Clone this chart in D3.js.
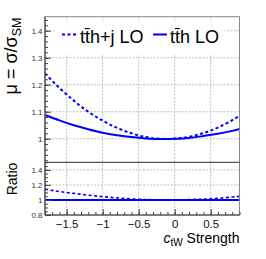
<!DOCTYPE html>
<html><head><meta charset="utf-8">
<script src="https://cdn.jsdelivr.net/npm/d3@7"></script>
<style>body{margin:0;background:#fff}svg{display:block;font-family:"Liberation Sans",Arial,sans-serif}</style>
</head><body><svg id="c" width="266" height="259"></svg>
<script>
const cValues = [-1.8,-1.6,-1.4,-1.2,-1.0,-0.8,-0.6,-0.4,-0.2,0,0.2,0.4,0.6,0.8,0.9];
const tthjLO  = [1.242,1.188,1.141,1.100,1.067,1.040,1.020,1.006,1.000,1.000,1.007,1.021,1.041,1.069,1.085];
const tthLO   = [1.088,1.068,1.050,1.035,1.022,1.013,1.006,1.001,0.999,1.000,1.003,1.010,1.018,1.029,1.036];
const ratioJ  = [1.141,1.112,1.087,1.063,1.044,1.027,1.014,1.005,1.001,1.000,1.004,1.011,1.022,1.039,1.047];
const ratioS  = [1,1,1,1,1,1,1,1,1,1,1,1,1,1,1];
const xTicks = [-1.5,-1,-0.5,0,0.5];
const xTickLabels = ["\u22121.5","\u22121","\u22120.5","0","0.5"];
const yTopTicks = [1.0,1.1,1.2,1.3,1.4];
const yTopLabels = ["1","1.1","1.2","1.3","1.4"];
const yBotTicks = [0.8,1.0,1.2,1.4];
const yBotLabels = ["0.8","1","1.2","1.4"];
const seriesNames = ["t\u0074\u0304h+j LO","t\u0074\u0304h LO"];

const svg = d3.select("#c");
const L=45, R=239.5, T=16.7, M=162.3, B=215;
const x = d3.scaleLinear().domain([-1.8,0.9]).range([L,R]);
const yT = d3.scaleLinear().domain([0.9126,1.4519]).range([M,T]);
const yB = d3.scaleLinear().domain([0.8,1.5]).range([B,M]);
const blue="#0000ff", grid="#b0b0b0";

// gridlines
const g = svg.append("g");
xTicks.forEach(t=>{
  g.append("line").attr("x1",x(t)).attr("x2",x(t)).attr("y1",T).attr("y2",B)
   .attr("stroke",grid).attr("stroke-width",0.8).attr("stroke-dasharray","2,1.5");
});
yTopTicks.forEach(t=>{
  g.append("line").attr("x1",L).attr("x2",R).attr("y1",yT(t)).attr("y2",yT(t))
   .attr("stroke",grid).attr("stroke-width",0.8).attr("stroke-dasharray","2,1.5");
});
yBotTicks.forEach(t=>{
  g.append("line").attr("x1",L).attr("x2",R).attr("y1",yB(t)).attr("y2",yB(t))
   .attr("stroke",grid).attr("stroke-width",0.8).attr("stroke-dasharray","2,1.5");
});

// curves
const pts = (ys)=>cValues.map((c,i)=>[c,ys[i]]);
const lineT = d3.line().x(d=>x(d[0])).y(d=>yT(d[1])).curve(d3.curveNatural);
const lineB = d3.line().x(d=>x(d[0])).y(d=>yB(d[1])).curve(d3.curveNatural);
svg.append("path").attr("d",lineT(pts(tthjLO))).attr("fill","none").attr("stroke",blue).attr("stroke-width",2).attr("stroke-dasharray","3,2.5");
svg.append("path").attr("d",lineT(pts(tthLO))).attr("fill","none").attr("stroke",blue).attr("stroke-width",2);
svg.append("path").attr("d",lineB(pts(ratioJ))).attr("fill","none").attr("stroke",blue).attr("stroke-width",1.6).attr("stroke-dasharray","3,2.5");
svg.append("path").attr("d",lineB(pts(ratioS))).attr("fill","none").attr("stroke",blue).attr("stroke-width",2);

// legend
svg.append("rect").attr("x",55).attr("y",21).attr("width",170).attr("height",33).attr("fill","#fff");
svg.append("line").attr("x1",62).attr("x2",76).attr("y1",34.5).attr("y2",34.5).attr("stroke",blue).attr("stroke-width",2).attr("stroke-dasharray","3,2.5");
svg.append("text").attr("x",80).attr("y",42.5).attr("font-size",18).attr("fill","#000").text(seriesNames[0]);
svg.append("line").attr("x1",153).attr("x2",167).attr("y1",34.5).attr("y2",34.5).attr("stroke",blue).attr("stroke-width",2);
svg.append("text").attr("x",170).attr("y",42.5).attr("font-size",18).attr("fill","#000").text(seriesNames[1]);

// frames
svg.append("rect").attr("x",L).attr("y",T).attr("width",R-L).attr("height",B-T).attr("fill","none").attr("stroke","#888").attr("stroke-width",1);
svg.append("line").attr("x1",L).attr("x2",R).attr("y1",M).attr("y2",M).attr("stroke","#555").attr("stroke-width",1.2);
svg.append("line").attr("x1",L).attr("x2",L).attr("y1",T).attr("y2",B).attr("stroke","#444").attr("stroke-width",1.2);
svg.append("line").attr("x1",L).attr("x2",R).attr("y1",B).attr("y2",B).attr("stroke","#444").attr("stroke-width",1.2);

// axes via d3
const axTop = d3.axisRight(yT).tickValues(d3.range(0.92,1.451,0.02)).tickSize(3).tickFormat("");
svg.append("g").attr("transform",`translate(${L},0)`).call(axTop).call(s=>{s.select(".domain").remove();s.selectAll("line").attr("stroke","#444");});
const axTopMaj = d3.axisLeft(yT).tickValues(yTopTicks).tickSize(-6).tickPadding(8).tickFormat((d,i)=>yTopLabels[i]);
svg.append("g").attr("transform",`translate(${L},0)`).call(axTopMaj).call(s=>{s.select(".domain").remove();s.selectAll("line").attr("stroke","#444");s.selectAll("text").attr("font-size",8).attr("font-family","Liberation Sans, Arial, sans-serif").attr("fill","#333").attr("x",-2.5);});

const axBot = d3.axisRight(yB).tickValues(d3.range(0.8,1.501,0.05)).tickSize(3).tickFormat("");
svg.append("g").attr("transform",`translate(${L},0)`).call(axBot).call(s=>{s.select(".domain").remove();s.selectAll("line").attr("stroke","#444");});
const axBotMaj = d3.axisLeft(yB).tickValues(yBotTicks).tickSize(-6).tickFormat((d,i)=>yBotLabels[i]);
svg.append("g").attr("transform",`translate(${L},0)`).call(axBotMaj).call(s=>{s.select(".domain").remove();s.selectAll("line").attr("stroke","#444");s.selectAll("text").attr("font-size",8).attr("font-family","Liberation Sans, Arial, sans-serif").attr("fill","#333").attr("x",-2.5);});

const axX = d3.axisTop(x).tickValues(d3.range(-1.8,0.91,0.1)).tickSize(3).tickFormat("");
svg.append("g").attr("transform",`translate(0,${B})`).call(axX).call(s=>{s.select(".domain").remove();s.selectAll("line").attr("stroke","#444");});
const axXMaj = d3.axisBottom(x).tickValues(xTicks).tickSize(-6).tickFormat((d,i)=>xTickLabels[i]);
svg.append("g").attr("transform",`translate(0,${B})`).call(axXMaj).call(s=>{s.select(".domain").remove();s.selectAll("line").attr("stroke","#444");s.selectAll("text").attr("font-size",11.5).attr("font-family","Liberation Sans, Arial, sans-serif").attr("fill","#111").attr("y",13).attr("dy",0);});

// axis titles
const yt = svg.append("text").attr("transform","translate(17,56) rotate(-90)").attr("text-anchor","middle").attr("font-size",18).attr("fill","#000");
yt.append("tspan").text("\u03bc = \u03c3/\u03c3");
yt.append("tspan").attr("font-size",12.5).attr("dy",4).text("SM");
svg.append("text").attr("transform","translate(17,179) rotate(-90)").attr("text-anchor","middle").attr("font-size",14).attr("fill","#000").text("Ratio");
const xt = svg.append("text").attr("x",239.5).attr("y",242.5).attr("text-anchor","end").attr("font-size",14).attr("fill","#000");
xt.append("tspan").attr("font-style","italic").text("c");
xt.append("tspan").attr("font-size",10).attr("dy",3).text("tW");
xt.append("tspan").attr("dy",-3).text(" Strength");
</script></body></html>
